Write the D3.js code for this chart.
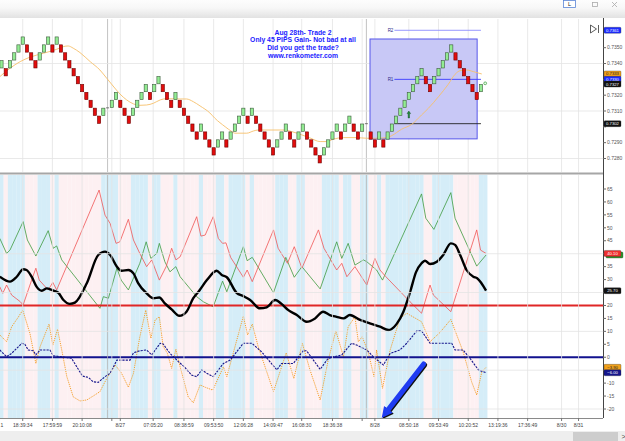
<!DOCTYPE html>
<html>
<head>
<meta charset="utf-8">
<script src="https://cdn.jsdelivr.net/npm/d3@7"></script>
<style>
  body { margin: 0; background: #fff; }
  svg { display: block; font-family: "Liberation Sans", Arial, sans-serif; }
</style>
</head>
<body>
<svg id="chart" width="625" height="441"></svg>
<script>
// renko bricks, one per slot ("-" = session break, no brick)
const brickDir = ["GRGGGGRRRG", "GGRGRRRRRR", "RRRRG-GGRR", "RGGGGRGGRR", "RGRRRRRGRR",
  "RGGRGGGGRG", "RRRRRGGGRR", "GGRRRRGGGG", "RGGRRG-RRG", "RGGGGGGGGG", "RRGGGGGRRR", "RRRG"].join("");
const brickLow = [
  0.7337, 0.7332, 0.7337, 0.7342, 0.7347, 0.7352, 0.7347, 0.7342, 0.7337, 0.7342,
  0.7347, 0.7352, 0.7347, 0.7352, 0.7347, 0.7342, 0.7337, 0.7332, 0.7327, 0.7322,
  0.7317, 0.7312, 0.7307, 0.7302, 0.7307, null, 0.7312, 0.7317, 0.7312, 0.7307,
  0.7302, 0.7307, 0.7312, 0.7317, 0.7322, 0.7317, 0.7322, 0.7327, 0.7322, 0.7317,
  0.7312, 0.7317, 0.7312, 0.7307, 0.7302, 0.7297, 0.7292, 0.7297, 0.7292, 0.7287,
  0.7282, 0.7287, 0.7292, 0.7287, 0.7292, 0.7297, 0.7302, 0.7307, 0.7302, 0.7307,
  0.7302, 0.7297, 0.7292, 0.7287, 0.7282, 0.7287, 0.7292, 0.7297, 0.7292, 0.7287,
  0.7292, 0.7297, 0.7292, 0.7287, 0.7282, 0.7277, 0.7282, 0.7287, 0.7292, 0.7297,
  0.7292, 0.7297, 0.7302, 0.7297, 0.7292, 0.7297, null, 0.7292, 0.7287, 0.7292,
  0.7287, 0.7292, 0.7297, 0.7302, 0.7307, 0.7312, 0.7317, 0.7322, 0.7327, 0.7332,
  0.7327, 0.7322, 0.7327, 0.7332, 0.7337, 0.7342, 0.7347, 0.7342, 0.7337, 0.7332,
  0.7327, 0.7322, 0.7317, 0.7322
];
const brickSize = 0.0005;
const formingSlot = 114;
const formingPrice = 0.73275;
const signalSlot = 96, signalPrice = 0.7310;

// moving average [slot, price]
const maLine = [[-0.4,0.73317],[2,0.7337],[4.4,0.73412],[6.7,0.7344],[9.9,0.73465],[13,0.7349],[14.6,0.73507],
  [15.7,0.73511],[16.9,0.73497],[18.5,0.73469],[20.9,0.73412],[23.2,0.73359],[24.8,0.73307],[26.3,0.73258],
  [27.9,0.73208],[29.5,0.7317],[31.1,0.73145],[32.6,0.73136],[34.2,0.73138],[35.8,0.73149],[37.4,0.7317],
  [38.9,0.73178],[42.1,0.73176],[43.6,0.73176],[45.2,0.73159],[46.8,0.73132],[49.1,0.73088],[50.3,0.73054],
  [52.7,0.73001],[54.3,0.7297],[55,0.7296],[57.8,0.7296],[59.4,0.72974],[60.5,0.7298],[66.8,0.7298],
  [68.4,0.7297],[70.8,0.72949],[72.7,0.7293],[75.1,0.72907],[76.6,0.72907],[78.2,0.72922],[80.6,0.72932],
  [83.7,0.72932],[86.1,0.72928],[88.4,0.72928],[90.8,0.72932],[92,0.72945],[94.3,0.72985],[96.7,0.73016],
  [99,0.73075],[100.6,0.73117],[103,0.73191],[105.3,0.73269],[106.9,0.73332],[108.1,0.73355],
  [109.6,0.73359],[111.2,0.73349],[113.2,0.73334]];

// trade box and pivot levels
const tradeBox = {from: 86.85, to: 112.1, high: 0.73555, low: 0.72924};
const pivotNames = ["R2", "R1", ""];
const pivotPrices = [0.7361, 0.7330, 0.7302];
const pivotColors = ["#8c8cff", "#3a3aff", "#222"];
const pivotFrom = 92.6, pivotTo = 113;

// indicator panel series [slot, value]
const diMinus = [[-0.4,27.2],[0.3,24.7],[1.2,27.9],[2.4,24],[4.4,21.5],[5.1,20.2],[7.1,29.8],[8.1,34.4],[8.9,29.8],
  [11,26],[12.1,28.9],[13,26],[23,64.6],[24.4,54.9],[25.6,51.7],[27,44],[27.9,44.6],[29.9,53.3],[31.1,45.3],
  [32.6,40.1],[34.2,35],[35.4,37.6],[37.2,29.8],[38.8,35],[40.1,42.1],[41.1,37.6],[42.1,38.8],[46,54.3],
  [47,46.8],[48,47.2],[49.9,54.3],[51.1,45.9],[52.1,44],[52.9,44.2],[54,38.6],[57,30.9],[57.9,33.7],
  [59.1,29.2],[64.1,49.2],[65.2,42.1],[67.4,36.3],[69,42.7],[70.8,34.4],[74.7,49.2],[76,42.1],[79,33.7],
  [80.2,36.3],[81.4,31.1],[83.3,35],[86.1,27.9],[88,38.2],[89.2,33.7],[90.6,31.1],[96.3,21.4],[99,17],
  [101,27.9],[101.8,24],[105.9,17.6],[112,49.2],[112.9,41.4],[114.2,40.1]];
const diPlus = [[-0.4,45.9],[1.2,40.1],[2,41.4],[5.1,52.4],[6.1,45.3],[8.1,39.1],[11,48.9],[12.2,42.1],[13,43],
  [14.2,37.6],[23.2,18.9],[24,23.4],[25.2,22.8],[27.2,34.4],[28.2,29.8],[29.9,26],[32.6,36.3],[34.1,44.6],
  [35.2,38.2],[36.6,40.1],[37.2,44],[38.5,36.9],[39.7,33],[41.1,35],[42.1,31.1],[46,23.4],[47.6,21.4],
  [49.9,19.5],[52.1,29.4],[53.1,25.3],[57,42.7],[57.9,37.3],[59.1,38.6],[64.1,24.9],[67,38.6],[69,30.9],
  [70.8,35],[75.1,26.4],[79,44.6],[80.2,38.2],[81.7,44],[83.3,35.6],[85.3,37.6],[86.1,36.9],[88.4,33.7],
  [89.8,29.8],[99,63.1],[100,53.7],[101.9,49.4],[105.9,63.6],[106.9,53.7],[112,35.2],[114.2,39.5]];
const adx = [[-0.4,31.1],[2,29.2],[3.6,31.1],[5.1,34],[5.9,33.7],[7.1,31.1],[8.3,27.2],[9.5,25.7],[10.7,26.6],
  [11.8,26],[13.4,24.9],[14.6,22.1],[16.1,20.6],[17.3,21.1],[20.1,28.6],[22.8,39.5],[24.4,40.8],[25.6,39.5],
  [27.2,35],[28.3,33.4],[29.9,33.7],[31.1,32.4],[32.2,28.6],[34.2,24.7],[35.8,22.8],[37.2,23.1],[38.5,20.8],
  [40.1,18.5],[41.9,16],[43.6,17.6],[45.2,22.8],[46.6,25.7],[48.4,29.8],[50.7,33.4],[51.9,31.8],[53.1,30.9],
  [55.4,24.9],[57,23.6],[58.6,22.1],[60.9,18.9],[62.5,19.3],[64.5,22.1],[66,20.6],[67.6,18.2],[69.6,16.3],
  [71.9,13.7],[73.9,15],[75.8,17.6],[77.4,16.3],[79,15.6],[80.6,15],[82.1,16.3],[84.5,14.4],[86.8,13.1],
  [89.2,11.8],[91.2,10.5],[93.1,12.8],[94.7,17.5],[96.3,25.2],[97.7,32.9],[99,36.3],[99.8,37.3],[101,36],
  [102.6,36.9],[104.1,39.5],[105.9,44],[106.9,43.4],[108.1,39.5],[109.6,33.7],[111.2,31.1],[112.1,30.5],
  [114.2,25.7]];
const osc = [[-0.4,8.6],[1.2,6],[2.4,11.8],[4,15.6],[5,18.2],[5.5,15.6],[6.7,9.2],[8.1,-2.4],[9.1,4.1],[11.2,12.8],
  [12.1,4.7],[13.2,10.8],[14.2,2.8],[15.4,-7.5],[16.9,-15.3],[18.5,-16.9],[20.1,-16.5],[21.6,-15],[23.2,-13.3],
  [24.8,-8.2],[26.8,-3],[28.3,-6.2],[29.9,-11.6],[31.1,-6.2],[32.6,7.9],[34,18.2],[35.2,7.3],[36.2,14.4],
  [37.2,15.6],[38.1,4.1],[39.1,1.5],[40.1,-4.3],[41.1,3.1],[42.1,-3.7],[44,-15.3],[45.2,-17.6],[46.8,-10.7],
  [48,-11.6],[49.8,-12.7],[52.3,-3.7],[53.1,-7.5],[57,15.9],[58,8.6],[59.1,12.8],[60.5,4.1],[64.1,-13.3],
  [67.1,1.7],[68.9,-8.2],[70.9,5.4],[72.7,-4.9],[75.1,-16.5],[77,-1.1],[78.8,10.2],[80.6,0.2],[81.7,11.8],
  [83.3,15.6],[84.1,6],[85,7.9],[86.4,2.1],[87.8,-7.5],[88.4,2.8],[89.8,-12],[91.6,2.8],[93.9,15],[95.5,17],
  [99,13.7],[101,6],[103.3,9.5],[105.9,14.6],[108.8,2.1],[110.8,-9.5],[112,-14.6],[113.2,-5.6],[114.2,-3.9]];
const trend = [[-0.4,2.8],[1.2,0.2],[2.4,1.5],[4.8,5.4],[5.5,5],[6.3,2.8],[7.5,2.5],[8.1,0.9],[9.1,2.8],[11.4,2.8],
  [12.2,0.6],[16.5,-0.4],[19.1,-7.3],[20.5,-7.8],[21.6,-9.5],[22.8,-9.7],[24.4,-7.5],[25.6,-6.2],[27.2,-1.1],
  [30.3,-1.1],[31.1,1.7],[32.6,2.5],[34.2,2.8],[35.4,0.9],[37.4,5.4],[38.1,5.1],[39.7,1.5],[41.7,-1.7],
  [43.2,-3.9],[44.8,-6.9],[46,-7.5],[47.2,-4.9],[48.4,-6.2],[49.9,-7.5],[52.3,-2.4],[53.9,-1.1],[57,5.4],
  [59,5.4],[61.3,2.1],[64.9,-4.9],[66,-2.4],[68.8,-2.4],[71.1,2.5],[71.9,2.5],[75.1,-4.7],[77,-0.4],[80.2,0.9],
  [82.5,5.4],[83.7,4.7],[86.1,2.8],[87.6,0.2],[90,-3],[91.6,1.5],[93.9,2.8],[95.5,5.4],[97.9,10.2],[99,10.2],
  [101,5.4],[106.1,5.4],[106.9,2.8],[108.8,2.8],[110.4,-0.4],[112.4,-4.9],[114.2,-6]];
const levelRed = 20, levelBlue = 0;
const arrowFrom = [99.5, -2.6], arrowTo = [89.6, -23.5];

// axes
const timeSlots = [5, 12, 19, 28, 35.75, 43, 50, 57, 64, 70.75, 78, 88, 96, 103, 110, 117, 124, 132, 136];
const timeLabels = ["18:39:34", "17:59:59", "20:10:08", "8/27", "07:05:20", "08:38:59", "09:53:50",
  "12:06:28", "14:09:47", "16:08:30", "18:36:38", "8/28", "08:50:18", "09:53:49", "10:20:52", "13:19:36",
  "17:36:49", "8/30", "8/31"];
const edgeLabel = "1";   // tail of the label scrolled off the left edge
const minorSlots = [26, 85];
const sessionSlots = [25, 86];
const priceTicks = [0.7280, 0.7290, 0.7300, 0.7310, 0.7320, 0.7330, 0.7340, 0.7350];
const priceGrid = [0.7280, 0.7310, 0.7340];
const indTicks = d3.range(-20, 66, 5);
const indGrid = [-20, -5, 10, 25, 40];
const titleLines = ["Aug 28th- Trade 2", "Only 45 PIPS Gain- Not bad at all", "Did you get the trade?", "www.renkometer.com"];

const svg = d3.select("#chart");
const axisX = 603;
const topY0 = 19, topY1 = 172, botY0 = 175, botY1 = 418;

const x = d3.scaleLinear().domain([0, 100]).range([1.5, 425.8]);
const yP = d3.scaleLinear().domain([0.7280, 0.7350]).range([158.5, 47.7]);
const yI = d3.scaleLinear().domain([-20, 65]).range([409, 189]);

const defs = svg.append("defs");
defs.append("clipPath").attr("id", "clipTop").append("rect")
  .attr("x", 0).attr("y", topY0).attr("width", axisX).attr("height", topY1 - topY0);
defs.append("clipPath").attr("id", "clipBot").append("rect")
  .attr("x", 0).attr("y", botY0).attr("width", axisX).attr("height", botY1 - botY0);
const grad = defs.append("linearGradient").attr("id", "bar").attr("x1", 0).attr("x2", 0).attr("y1", 0).attr("y2", 1);
grad.append("stop").attr("offset", "0%").attr("stop-color", "#fdfdfd");
grad.append("stop").attr("offset", "45%").attr("stop-color", "#f7f7f7");
grad.append("stop").attr("offset", "100%").attr("stop-color", "#e2e2e2");

// toolbar
svg.append("rect").attr("x", 0).attr("y", 0).attr("width", 625).attr("height", 18).attr("fill", "url(#bar)");
svg.append("rect").attr("x", 563.5).attr("y", 0.5).attr("width", 12).attr("height", 7)
  .attr("fill", "#fff").attr("stroke", "#5b86d6").attr("stroke-width", 0.8);
svg.append("text").attr("x", 569.5).attr("y", 6).attr("text-anchor", "middle")
  .attr("font-size", 5.5).attr("fill", "#222").text("L");
svg.append("rect").attr("x", 592.5).attr("y", 2.5).attr("width", 5).attr("height", 4)
  .attr("fill", "none").attr("stroke", "#aaa").attr("stroke-width", 0.8);
svg.append("path").attr("d", "M612,2 L617,7 M617,2 L612,7").attr("stroke", "#aaa").attr("stroke-width", 0.8);

// ---------- indicator panel background ----------
const gBot = svg.append("g").attr("clip-path", "url(#clipBot)");
const slotDir = [];
for (let i = 0; i <= formingSlot; i++) {
  let d = i < brickDir.length ? brickDir[i] : "G";
  if (d === "-") d = slotDir[i - 1];
  slotDir.push(d);
}
gBot.selectAll("rect.band").data(slotDir).join("rect")
  .attr("class", "band")
  .attr("x", (d, i) => x(i - 0.5))
  .attr("width", x(1) - x(0) + 0.1)
  .attr("y", botY0).attr("height", botY1 - botY0)
  .attr("fill", d => d === "G" ? "#d5edf8" : "#fdf0f2");

// gridlines
const grid = svg.append("g").attr("stroke", "#e3e3e3").attr("stroke-width", 0.8);
const vSlots = timeSlots.concat(minorSlots);
[[topY0, topY1], [botY0, botY1]].forEach(([a, b]) => {
  grid.append("g").selectAll("line").data(vSlots).join("line")
    .attr("x1", d => x(d)).attr("x2", d => x(d)).attr("y1", a).attr("y2", b);
  grid.append("g").selectAll("line").data(sessionSlots).join("line")
    .attr("x1", d => x(d)).attr("x2", d => x(d)).attr("y1", a).attr("y2", b)
    .attr("stroke", "#b4b4b4");
});
grid.append("g").selectAll("line").data(priceGrid).join("line")
  .attr("x1", 0).attr("x2", axisX).attr("y1", d => yP(d)).attr("y2", d => yP(d));
grid.append("g").selectAll("line").data(indGrid).join("line")
  .attr("x1", 0).attr("x2", axisX).attr("y1", d => yI(d)).attr("y2", d => yI(d));

// ---------- price panel ----------
const gTop = svg.append("g").attr("clip-path", "url(#clipTop)");

gTop.append("rect")
  .attr("x", x(tradeBox.from)).attr("width", x(tradeBox.to) - x(tradeBox.from))
  .attr("y", yP(tradeBox.high)).attr("height", yP(tradeBox.low) - yP(tradeBox.high))
  .attr("fill", "#c8c8f6").attr("stroke", "#5656ea").attr("stroke-width", 1);

pivotPrices.forEach((p, i) => {
  gTop.append("line")
    .attr("x1", x(pivotFrom)).attr("x2", x(pivotTo))
    .attr("y1", yP(p)).attr("y2", yP(p))
    .attr("stroke", pivotColors[i]).attr("stroke-width", 0.9);
  if (pivotNames[i]) {
    gTop.append("text").attr("x", x(pivotFrom) - 1).attr("y", yP(p) + 1.6)
      .attr("text-anchor", "end").attr("font-size", 4.5).attr("fill", "#2a2a8a").text(pivotNames[i]);
  }
});

const maPath = d3.line().x(d => x(d[0])).y(d => yP(d[1])).curve(d3.curveMonotoneX);
gTop.append("path").attr("d", maPath(maLine))
  .attr("fill", "none").attr("stroke", "#f6bf6a").attr("stroke-width", 0.9);

const bricks = brickLow.map((low, i) => ({i, low, dir: brickDir[i]})).filter(d => d.low !== null);
gTop.selectAll("rect.brick").data(bricks).join("rect")
  .attr("class", "brick")
  .attr("x", d => x(d.i) - 1.6).attr("width", 3.2)
  .attr("y", d => yP(d.low + brickSize) + 0.3)
  .attr("height", d => yP(d.low) - yP(d.low + brickSize) - 0.6)
  .attr("fill", d => d.dir === "G" ? "#92ec92" : "#e20c0c")
  .attr("stroke", d => d.dir === "G" ? "#3d5a3d" : "#6e0000")
  .attr("stroke-width", 0.6);

// session-break markers at the previous close
sessionSlots.forEach(s => {
  const prev = brickLow[s - 1];
  const close = brickDir[s - 1] === "G" ? prev + brickSize : prev;
  gTop.append("line").attr("x1", x(s) - 1.5).attr("x2", x(s) + 1.5)
    .attr("y1", yP(close)).attr("y2", yP(close)).attr("stroke", "#555").attr("stroke-width", 0.8);
});

// buy signal arrow
const sx = x(signalSlot), sy = yP(signalPrice);
gTop.append("path")
  .attr("d", `M${sx},${sy} L${sx + 1.8},${sy + 2.6} L${sx + 0.7},${sy + 2.6} L${sx + 0.7},${sy + 7} L${sx - 0.7},${sy + 7} L${sx - 0.7},${sy + 2.6} L${sx - 1.8},${sy + 2.6} Z`)
  .attr("fill", "#1f8a3a").attr("stroke", "#0d4a1c").attr("stroke-width", 0.4);

gTop.append("circle").attr("cx", x(formingSlot)).attr("cy", yP(formingPrice)).attr("r", 1.4)
  .attr("fill", "#e8ffe8").attr("stroke", "#3a9a3a").attr("stroke-width", 0.7);

// title
const title = svg.append("text").attr("text-anchor", "middle").attr("font-weight", "bold")
  .attr("font-size", 6.8).attr("fill", "#2222ff");
titleLines.forEach((t, i) => {
  title.append("tspan").attr("x", 303).attr("y", 34.5 + i * 7.7).text(t);
});

// scroll-to-end icon
svg.append("path").attr("d", "M590.5,25 L590.5,33 L596.5,29 Z M598.5,25 L598.5,33")
  .attr("fill", "none").attr("stroke", "#333").attr("stroke-width", 0.8);

// ---------- indicator panel lines ----------
const lineI = d3.line().x(d => x(d[0])).y(d => yI(d[1]));
gBot.append("path").attr("d", lineI(osc)).attr("fill", "none")
  .attr("stroke", "#f5a02c").attr("stroke-width", 1).attr("stroke-dasharray", "1.2,1");
gBot.append("path").attr("d", lineI(trend)).attr("fill", "none")
  .attr("stroke", "#16168c").attr("stroke-width", 1.1).attr("stroke-dasharray", "2.2,1.1");
gBot.append("path").attr("d", lineI(diPlus)).attr("fill", "none")
  .attr("stroke", "#3f9b3f").attr("stroke-width", 0.8);
gBot.append("path").attr("d", lineI(diMinus)).attr("fill", "none")
  .attr("stroke", "#f05555").attr("stroke-width", 0.8);
gBot.append("line").attr("x1", 0).attr("x2", axisX).attr("y1", yI(levelRed)).attr("y2", yI(levelRed))
  .attr("stroke", "#e02626").attr("stroke-width", 2);
gBot.append("line").attr("x1", 0).attr("x2", axisX).attr("y1", yI(levelBlue)).attr("y2", yI(levelBlue))
  .attr("stroke", "#12128e").attr("stroke-width", 2);
gBot.append("path").attr("d", lineI.curve(d3.curveMonotoneX)(adx)).attr("fill", "none")
  .attr("stroke", "#000").attr("stroke-width", 2.4).attr("stroke-linejoin", "round");

// annotation arrow
const ax1 = x(arrowFrom[0]), ay1 = yI(arrowFrom[1]), ax2 = x(arrowTo[0]), ay2 = yI(arrowTo[1]);
const ang = Math.atan2(ay2 - ay1, ax2 - ax1);
const hl = 11, hw = 5.5;
const bx = ax2 - hl * Math.cos(ang), by = ay2 - hl * Math.sin(ang);
const px = -Math.sin(ang), py = Math.cos(ang);
const arrowG = svg.append("g");
[["#111", 1], ["#1f3cf2", 0]].forEach(([c, o]) => {
  arrowG.append("line").attr("x1", ax1 + o).attr("y1", ay1 + o).attr("x2", bx + o).attr("y2", by + o)
    .attr("stroke", c).attr("stroke-width", 5).attr("stroke-linecap", "round");
  arrowG.append("path")
    .attr("d", `M${ax2 + o},${ay2 + o} L${bx + px * hw + o},${by + py * hw + o} L${bx - px * hw + o},${by - py * hw + o} Z`)
    .attr("fill", c);
});

// panel frame
svg.append("rect").attr("x", 0).attr("y", 172.5).attr("width", axisX).attr("height", 2).attr("fill", "#a6a6a6");
svg.append("line").attr("x1", axisX + 0.5).attr("x2", axisX + 0.5).attr("y1", 18).attr("y2", botY1)
  .attr("stroke", "#444").attr("stroke-width", 1);
svg.append("line").attr("x1", 0).attr("x2", axisX).attr("y1", botY1 + 0.5).attr("y2", botY1 + 0.5)
  .attr("stroke", "#8a8a8a").attr("stroke-width", 1);

// value tags on the right axes (tick labels under a tag stay hidden, as in the source)
const last = a => a[a.length - 1][1];
const lastClose = brickLow[brickLow.length - 1] + brickSize;
const priceTags = [
  {y: yP(pivotPrices[0]), t: d3.format(".4f")(pivotPrices[0]), bg: "#1c2cff", fg: "#fff"},
  {y: yP(last(maLine)), t: d3.format(".4f")(last(maLine)), bg: "#f2a11a", fg: "#222"},
  {y: yP(pivotPrices[1]), t: d3.format(".4f")(pivotPrices[1]), bg: "#1c2cff", fg: "#fff"},
  {y: yP(lastClose), t: d3.format(".4f")(lastClose), bg: "#111", fg: "#fff"},
  {y: yP(pivotPrices[2]), t: d3.format(".4f")(pivotPrices[2]), bg: "#111", fg: "#fff"}
];
const indTags = [
  {y: yI(last(diPlus)), t: "", bg: "#2e9a2e", fg: "#fff", dx: 2},
  {y: yI(last(diMinus)), t: d3.format(".2f")(last(diMinus)), bg: "#ee3030", fg: "#fff"},
  {y: yI(last(adx)), t: d3.format(".2f")(last(adx)), bg: "#111", fg: "#fff"},
  {y: yI(last(osc)), t: d3.format(".2f")(last(osc)), bg: "#f2a11a", fg: "#222"},
  {y: yI(last(trend)), t: d3.format(".2f")(last(trend)), bg: "#16168c", fg: "#fff"}
];
const allTags = priceTags.concat(indTags);
const covered = y => allTags.some(t => Math.abs(t.y - y) < 5);

const axisG = svg.append("g").attr("font-size", 5).attr("fill", "#555");
priceTicks.forEach(p => {
  axisG.append("line").attr("x1", axisX).attr("x2", axisX + 3).attr("y1", yP(p)).attr("y2", yP(p)).attr("stroke", "#666");
  if (!covered(yP(p))) axisG.append("text").attr("x", axisX + 4).attr("y", yP(p) + 1.7).text(d3.format(".4f")(p));
});
indTicks.forEach(v => {
  axisG.append("line").attr("x1", axisX).attr("x2", axisX + 3).attr("y1", yI(v)).attr("y2", yI(v)).attr("stroke", "#666");
  if (!covered(yI(v))) axisG.append("text").attr("x", axisX + 4).attr("y", yI(v) + 1.7).text(v);
});

allTags.forEach(d => {
  const dx = d.dx || 0;
  svg.append("rect").attr("x", axisX + 1 + dx).attr("y", d.y - 3).attr("width", 17).attr("height", 6)
    .attr("rx", 1).attr("fill", d.bg).attr("stroke", "#222").attr("stroke-width", 0.3);
  if (d.t) {
    svg.append("text").attr("x", axisX + 9.5 + dx).attr("y", d.y + 1.5).attr("text-anchor", "middle")
      .attr("font-size", 4.2).attr("fill", d.fg).text(d.t);
  }
});

// time axis
const tAxis = svg.append("g");
timeSlots.concat(minorSlots).forEach(s => {
  tAxis.append("line").attr("x1", x(s)).attr("x2", x(s)).attr("y1", botY1).attr("y2", botY1 + 3).attr("stroke", "#777");
});
timeSlots.forEach((s, i) => {
  tAxis.append("text").attr("x", x(s)).attr("y", 427).attr("text-anchor", "middle")
    .attr("font-size", 5).attr("fill", "#444").text(timeLabels[i]);
});
tAxis.append("text").attr("x", 0.5).attr("y", 427).attr("font-size", 5).attr("fill", "#444").text(edgeLabel);

// scrollbar
svg.append("rect").attr("x", 0).attr("y", 431).attr("width", 625).attr("height", 10).attr("fill", "#eeeeee");
svg.append("rect").attr("x", 573).attr("y", 432).attr("width", 45).attr("height", 9).attr("fill", "#cdcdcd");
svg.append("text").attr("x", 621.5).attr("y", 439).attr("font-size", 7).attr("fill", "#444").text(">");
</script>
</body>
</html>
